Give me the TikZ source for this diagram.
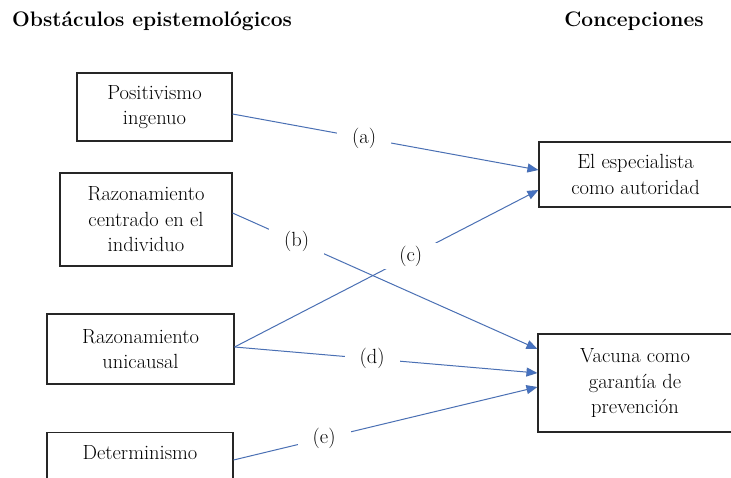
\documentclass[tikz,border=0pt]{standalone}
\usepackage{fontspec}
\usetikzlibrary{arrows.meta,calc}
\definecolor{linkblue}{RGB}{74,112,180}
\definecolor{tipblue}{RGB}{68,114,196}
\begin{document}
\begin{tikzpicture}[x=1pt,y=-1pt,
  every node/.style={font=\fontsize{20.5}{25.5}\selectfont, text=black},
  box/.style={draw=black!85, line width=1.1pt, align=center, inner sep=0pt},
  head/.style={font=\fontsize{21}{25}\selectfont\bfseries, inner sep=0pt},
  arr/.style={draw=linkblue, line width=1pt, -{Triangle[length=11pt,width=9pt,fill=tipblue]}},
  lab/.style={fill=white, inner xsep=15pt, inner ysep=3pt}]
\useasboundingbox (0,0) rectangle (731,477);
\fill[white] (0,0) rectangle (731,477);
% headers
\node[head, anchor=west] (h1) at (12,21) {Obstáculos epistemológicos};
\node[head] (h2) at (634,21) {Concepciones};
% left boxes
\node[box, minimum width=155, minimum height=68] (A) at (154.5,107) {Positivismo\\ingenuo};
\node[box, minimum width=172, minimum height=93] (B) at (146,219.5) {Razonamiento\\centrado en el\\individuo};
\node[box, minimum width=187, minimum height=70] (C) at (140.5,349) {Razonamiento\\unicausal};
\node[box, minimum width=186, minimum height=90, anchor=north] (D) at (140,432) {};
\node (Dt) at ($(D.north)+(0,21)$) {Determinismo};
% right boxes
\node[box, minimum width=193, minimum height=65] (E) at (635.5,174.5) {El especialista\\como autoridad};
\node[box, minimum width=194, minimum height=98] (F) at (635,383) {Vacuna como\\garantía de\\prevención};
% connectors
\draw[arr] ([yshift=-7pt]A.east) -- node[lab, pos=0.43] {(a)} ([yshift=4.5pt]E.west);
\draw[arr] ([yshift=6.5pt]B.east) -- node[lab, pos=0.21] {(b)} ([yshift=34pt]F.west);
\draw[arr] ([yshift=2pt]C.east) -- node[lab, pos=0.58] {(c)} ([yshift=-15.5pt]E.west);
\draw[arr] ([yshift=2pt]C.east) -- node[lab, pos=0.454] {(d)} ([yshift=10pt]F.west);
\draw[arr] ($(D.north east)+(0,28)$) -- node[lab, pos=0.298] {(e)} ([yshift=-4pt]F.west);
\end{tikzpicture}
\end{document}
